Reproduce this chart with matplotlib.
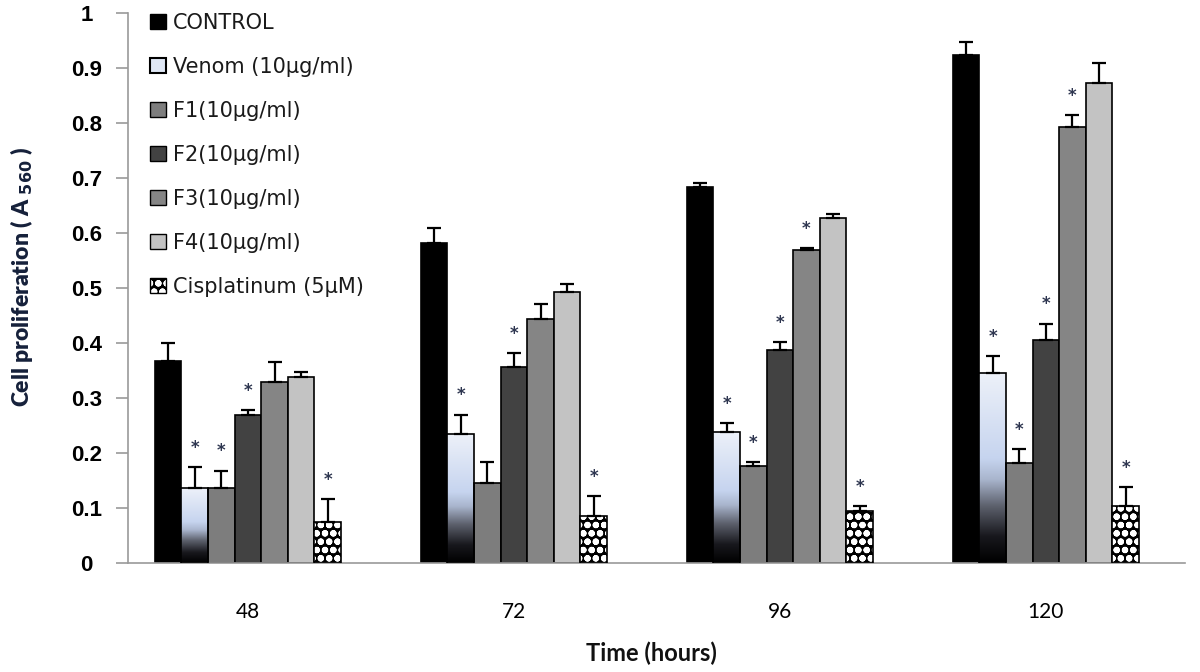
import numpy as np
import matplotlib
matplotlib.use("Agg")
import matplotlib.pyplot as plt
from matplotlib.patches import Patch
from matplotlib.colors import LinearSegmentedColormap

plt.rcParams["hatch.linewidth"] = 2.2

# ---------------- data ----------------
times = ["48", "72", "96", "120"]
series_names = ["CONTROL", "Venom (10\u00b5g/ml)", "F1(10\u00b5g/ml)", "F2(10\u00b5g/ml)",
                "F3(10\u00b5g/ml)", "F4(10\u00b5g/ml)", "Cisplatinum (5\u00b5M)"]

control = [0.367, 0.581, 0.684, 0.924]
venom = [0.136, 0.234, 0.239, 0.345]
f1 = [0.136, 0.146, 0.177, 0.181]
f2 = [0.270, 0.356, 0.388, 0.405]
f3 = [0.329, 0.444, 0.569, 0.792]
f4 = [0.339, 0.492, 0.628, 0.872]
cis = [0.075, 0.086, 0.095, 0.1045]

control_err = [0.033, 0.029, 0.006, 0.023]
venom_err = [0.038, 0.036, 0.015, 0.031]
f1_err = [0.032, 0.037, 0.007, 0.026]
f2_err = [0.008, 0.025, 0.013, 0.030]
f3_err = [0.037, 0.027, 0.003, 0.023]
f4_err = [0.009, 0.015, 0.006, 0.037]
cis_err = [0.041, 0.036, 0.008, 0.034]

# significance markers (1 = asterisk shown)
control_sig = [0, 0, 0, 0]
venom_sig = [1, 1, 1, 1]
f1_sig = [1, 0, 1, 1]
f2_sig = [1, 1, 1, 1]
f3_sig = [0, 0, 1, 1]
f4_sig = [0, 0, 0, 0]
cis_sig = [1, 1, 1, 1]

yticks = [0, 0.1, 0.2, 0.3, 0.4, 0.5, 0.6, 0.7, 0.8, 0.9, 1]
ytick_labels = ["0", "0.1", "0.2", "0.3", "0.4", "0.5", "0.6", "0.7", "0.8", "0.9", "1"]

values = [control, venom, f1, f2, f3, f4, cis]
errors = [control_err, venom_err, f1_err, f2_err, f3_err, f4_err, cis_err]
sigs = [control_sig, venom_sig, f1_sig, f2_sig, f3_sig, f4_sig, cis_sig]
solid_colors = ["#000000", None, "#7d7d7d", "#424242", "#858585", "#c3c3c3", None]

# ---------------- figure ----------------
fig = plt.figure(figsize=(12, 6.72), dpi=100)
ax = fig.add_axes([128 / 1200, 1 - 563 / 672, (1185 - 128) / 1200, 550 / 672])

x = np.arange(len(times))
width = 0.1
n = len(values)

venom_cmap = LinearSegmentedColormap.from_list(
    "venom", [(0.0, "#edf1f9"), (0.45, "#c6d4ef"), (0.56, "#a9b5cd"),
              (0.70, "#5d616d"), (0.86, "#18181d"), (1.0, "#000000")])
grad = np.linspace(0, 1, 256).reshape(-1, 1)

for k in range(n):
    xs = x + (k - (n - 1) / 2) * width
    vals = np.array(values[k])
    errs = np.array(errors[k])
    if k == 1:
        bars = ax.bar(xs, vals, width, facecolor="none", edgecolor="black", linewidth=1.2, zorder=3)
        for b in bars:
            x0, y0 = b.get_x(), b.get_y()
            w, h = b.get_width(), b.get_height()
            im = ax.imshow(grad, cmap=venom_cmap, aspect="auto",
                           extent=[x0, x0 + w, y0, y0 + h], origin="upper", zorder=2)
            im.set_clip_path(b)
    elif k == 6:
        ax.bar(xs, vals, width, facecolor="black", edgecolor="white", hatch="oo",
               linewidth=0, zorder=2)
        ax.bar(xs, vals, width, facecolor="none", edgecolor="black", linewidth=1.2, zorder=3)
    else:
        ax.bar(xs, vals, width, color=solid_colors[k], edgecolor="black",
               linewidth=1.2, zorder=2)
    ax.errorbar(xs, vals, yerr=[np.zeros_like(errs), errs], fmt="none", ecolor="black",
                elinewidth=1.6, capsize=5, capthick=1.6, zorder=4)
    for xi, v, e, s in zip(xs, vals, errs, sigs[k]):
        if s:
            ax.text(xi, v + e + 0.035, "*", ha="center", va="center", fontsize=12,
                    fontweight="bold", color="#2e3650", zorder=5)

ax.set_xlim(-0.451, 3.523)
ax.set_ylim(0, 1)
ax.set_xticks(x)
ax.set_xticklabels(times, fontfamily="Lato", fontsize=15)
ax.tick_params(axis="x", length=0, pad=28)
ax.set_yticks(yticks)
ax.set_yticklabels(ytick_labels, fontfamily="Liberation Sans", fontweight="bold", fontsize=16)
ax.tick_params(axis="y", length=9, width=1.2, color="#9a9a9a", pad=21)
for lbl in ax.get_yticklabels():
    lbl.set_horizontalalignment("center")

for side in ["top", "right"]:
    ax.spines[side].set_visible(False)
for side in ["left", "bottom"]:
    ax.spines[side].set_color("#9a9a9a")
    ax.spines[side].set_linewidth(1.2)

ax.set_ylabel("Cell proliferation ( A $_{\\mathbf{560}}$ )", fontfamily="Lato",
              fontweight="heavy", fontsize=16.5, color="#15203a")
ax.yaxis.set_label_coords(-0.088, 0.52)
ax.set_xlabel("Time (hours)", fontfamily="Lato", fontweight="bold", fontsize=17, color="#111111")
ax.xaxis.set_label_coords(0.495, -0.142)

# legend
handles = [
    Patch(facecolor="#000000", edgecolor="black"),
    Patch(facecolor="#dfe7f5", edgecolor="black", linewidth=1.5),
    Patch(facecolor="#7d7d7d", edgecolor="black"),
    Patch(facecolor="#424242", edgecolor="black"),
    Patch(facecolor="#858585", edgecolor="black"),
    Patch(facecolor="#c3c3c3", edgecolor="black"),
    (Patch(facecolor="black", edgecolor="white", hatch="oo", linewidth=0),
     Patch(facecolor="none", edgecolor="black")),
]
leg = ax.legend(handles, series_names, loc="upper left",
                bbox_to_anchor=(150 / 1200, 1 - 13 / 672), bbox_transform=fig.transFigure,
                frameon=False, prop={"family": "DejaVu Sans", "size": 15},
                handlelength=0.75, handleheight=0.75, handletextpad=0.35,
                labelspacing=1.15, borderpad=0, borderaxespad=0)
for t in leg.get_texts():
    t.set_color("#1a1a1a")

fig.savefig("out.png", dpi=100)
